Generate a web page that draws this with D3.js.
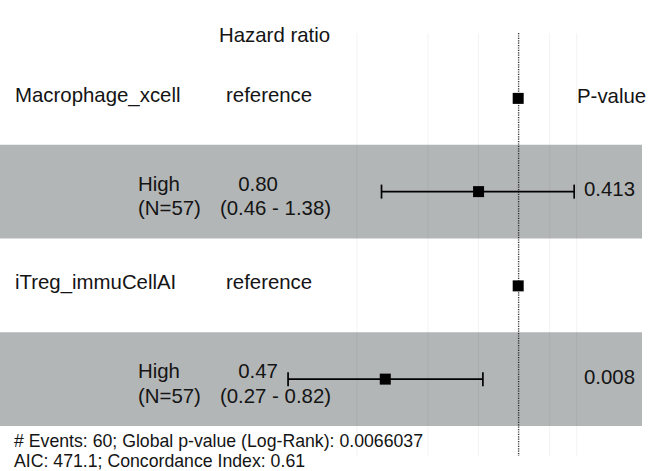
<!DOCTYPE html>
<html>
<head>
<meta charset="utf-8">
<script src="https://cdn.jsdelivr.net/npm/d3@7"></script>
<style>
  body { margin: 0; background: #fff; }
  text { font-family: "Liberation Sans", Arial, sans-serif; fill: #141414; }
</style>
</head>
<body>
<svg id="forest"></svg>
<script>
// Forest plot: Cox model hazard ratios (ggforest style)

const width = 649;
const height = 471;

// data
const variables = ["Macrophage_xcell", "iTreg_immuCellAI"];
const levels = ["High", "High"];
const nObs = [57, 57];
const hr = [0.80, 0.47];
const hrLower = [0.46, 0.27];
const hrUpper = [1.38, 0.82];
const pValues = ["0.413", "0.008"];
const gridBreaks = [0.4, 0.6, 0.8, 1.0, 1.2, 1.4];
const footnote = [
    "# Events: 60; Global p-value (Log-Rank): 0.0066037",
    "AIC: 471.1; Concordance Index: 0.61"
];

const fontSize = 20.4;

const svg = d3.select("#forest")
    .attr("width", width)
    .attr("height", height);

// log scale for hazard ratio
const x = d3.scaleLog()
    .domain([0.4, 1.4])
    .range([357, 576.7]);

// one band per row: reference row + level row for each variable
const rowIds = d3.range(variables.length * 2);
const y = d3.scaleBand()
    .domain(rowIds)
    .range([51, 426]);

function label(tx, ty, str, anchor) {
    return svg.append("text")
        .attr("x", tx)
        .attr("y", ty)
        .attr("font-size", fontSize)
        .attr("text-anchor", anchor || "start")
        .text(str);
}

// shaded level rows
svg.selectAll("rect.band")
    .data(variables)
    .enter().append("rect")
    .attr("class", "band")
    .attr("x", 0)
    .attr("width", 642)
    .attr("y", (d, i) => y(i * 2 + 1))
    .attr("height", y.bandwidth())
    .attr("fill", "#b3b6b7");

// grid lines
svg.selectAll("line.grid")
    .data(gridBreaks)
    .enter().append("line")
    .attr("class", "grid")
    .attr("x1", d => x(d))
    .attr("x2", d => x(d))
    .attr("y1", 33)
    .attr("y2", 456)
    .attr("stroke", "#000")
    .attr("stroke-opacity", 0.05)
    .attr("stroke-width", 1);

// reference line at HR = 1
svg.append("line")
    .attr("x1", x(1) + 1)
    .attr("x2", x(1) + 1)
    .attr("y1", 33)
    .attr("y2", 456)
    .attr("stroke", "#222")
    .attr("stroke-width", 1.2)
    .attr("stroke-dasharray", "1.2,1.2");

// header texts
label(219, 41.5, "Hazard ratio");
label(577, 103, "P-value");

variables.forEach((v, i) => {
    const refY = y(i * 2) + y.bandwidth() / 2;
    const lvlY = y(i * 2 + 1) + y.bandwidth() / 2;

    // reference row
    label(15, refY + 4, v);
    label(226, refY + 4, "reference");
    svg.append("rect")
        .attr("x", x(1) - 5)
        .attr("y", refY - 5)
        .attr("width", 11)
        .attr("height", 11)
        .attr("fill", "#000");

    // level row
    label(138, lvlY - 1, levels[i]);
    label(138, lvlY + 23.5, "(N=" + nObs[i] + ")");
    label(258, lvlY - 1, hr[i].toFixed(2), "middle");
    label(275.5, lvlY + 23.5,
        "(" + hrLower[i].toFixed(2) + " - " + hrUpper[i].toFixed(2) + ")", "middle");

    // confidence interval
    svg.append("line")
        .attr("x1", x(hrLower[i]))
        .attr("x2", x(hrUpper[i]))
        .attr("y1", lvlY)
        .attr("y2", lvlY)
        .attr("stroke", "#000")
        .attr("stroke-width", 1.7);
    [hrLower[i], hrUpper[i]].forEach(e => {
        svg.append("line")
            .attr("x1", x(e))
            .attr("x2", x(e))
            .attr("y1", lvlY - 7)
            .attr("y2", lvlY + 7)
            .attr("stroke", "#000")
            .attr("stroke-width", 1.7);
    });
    svg.append("rect")
        .attr("x", x(hr[i]) - 5.5)
        .attr("y", lvlY - 5.5)
        .attr("width", 11)
        .attr("height", 11)
        .attr("fill", "#000");

    // p-value
    label(635, lvlY + 4.5, pValues[i], "end");
});

// footnote
svg.selectAll("text.foot")
    .data(footnote)
    .enter().append("text")
    .attr("class", "foot")
    .attr("x", 14)
    .attr("y", (d, i) => 447 + i * 19.7)
    .attr("font-size", 17.7)
    .text(d => d);
</script>
</body>
</html>
